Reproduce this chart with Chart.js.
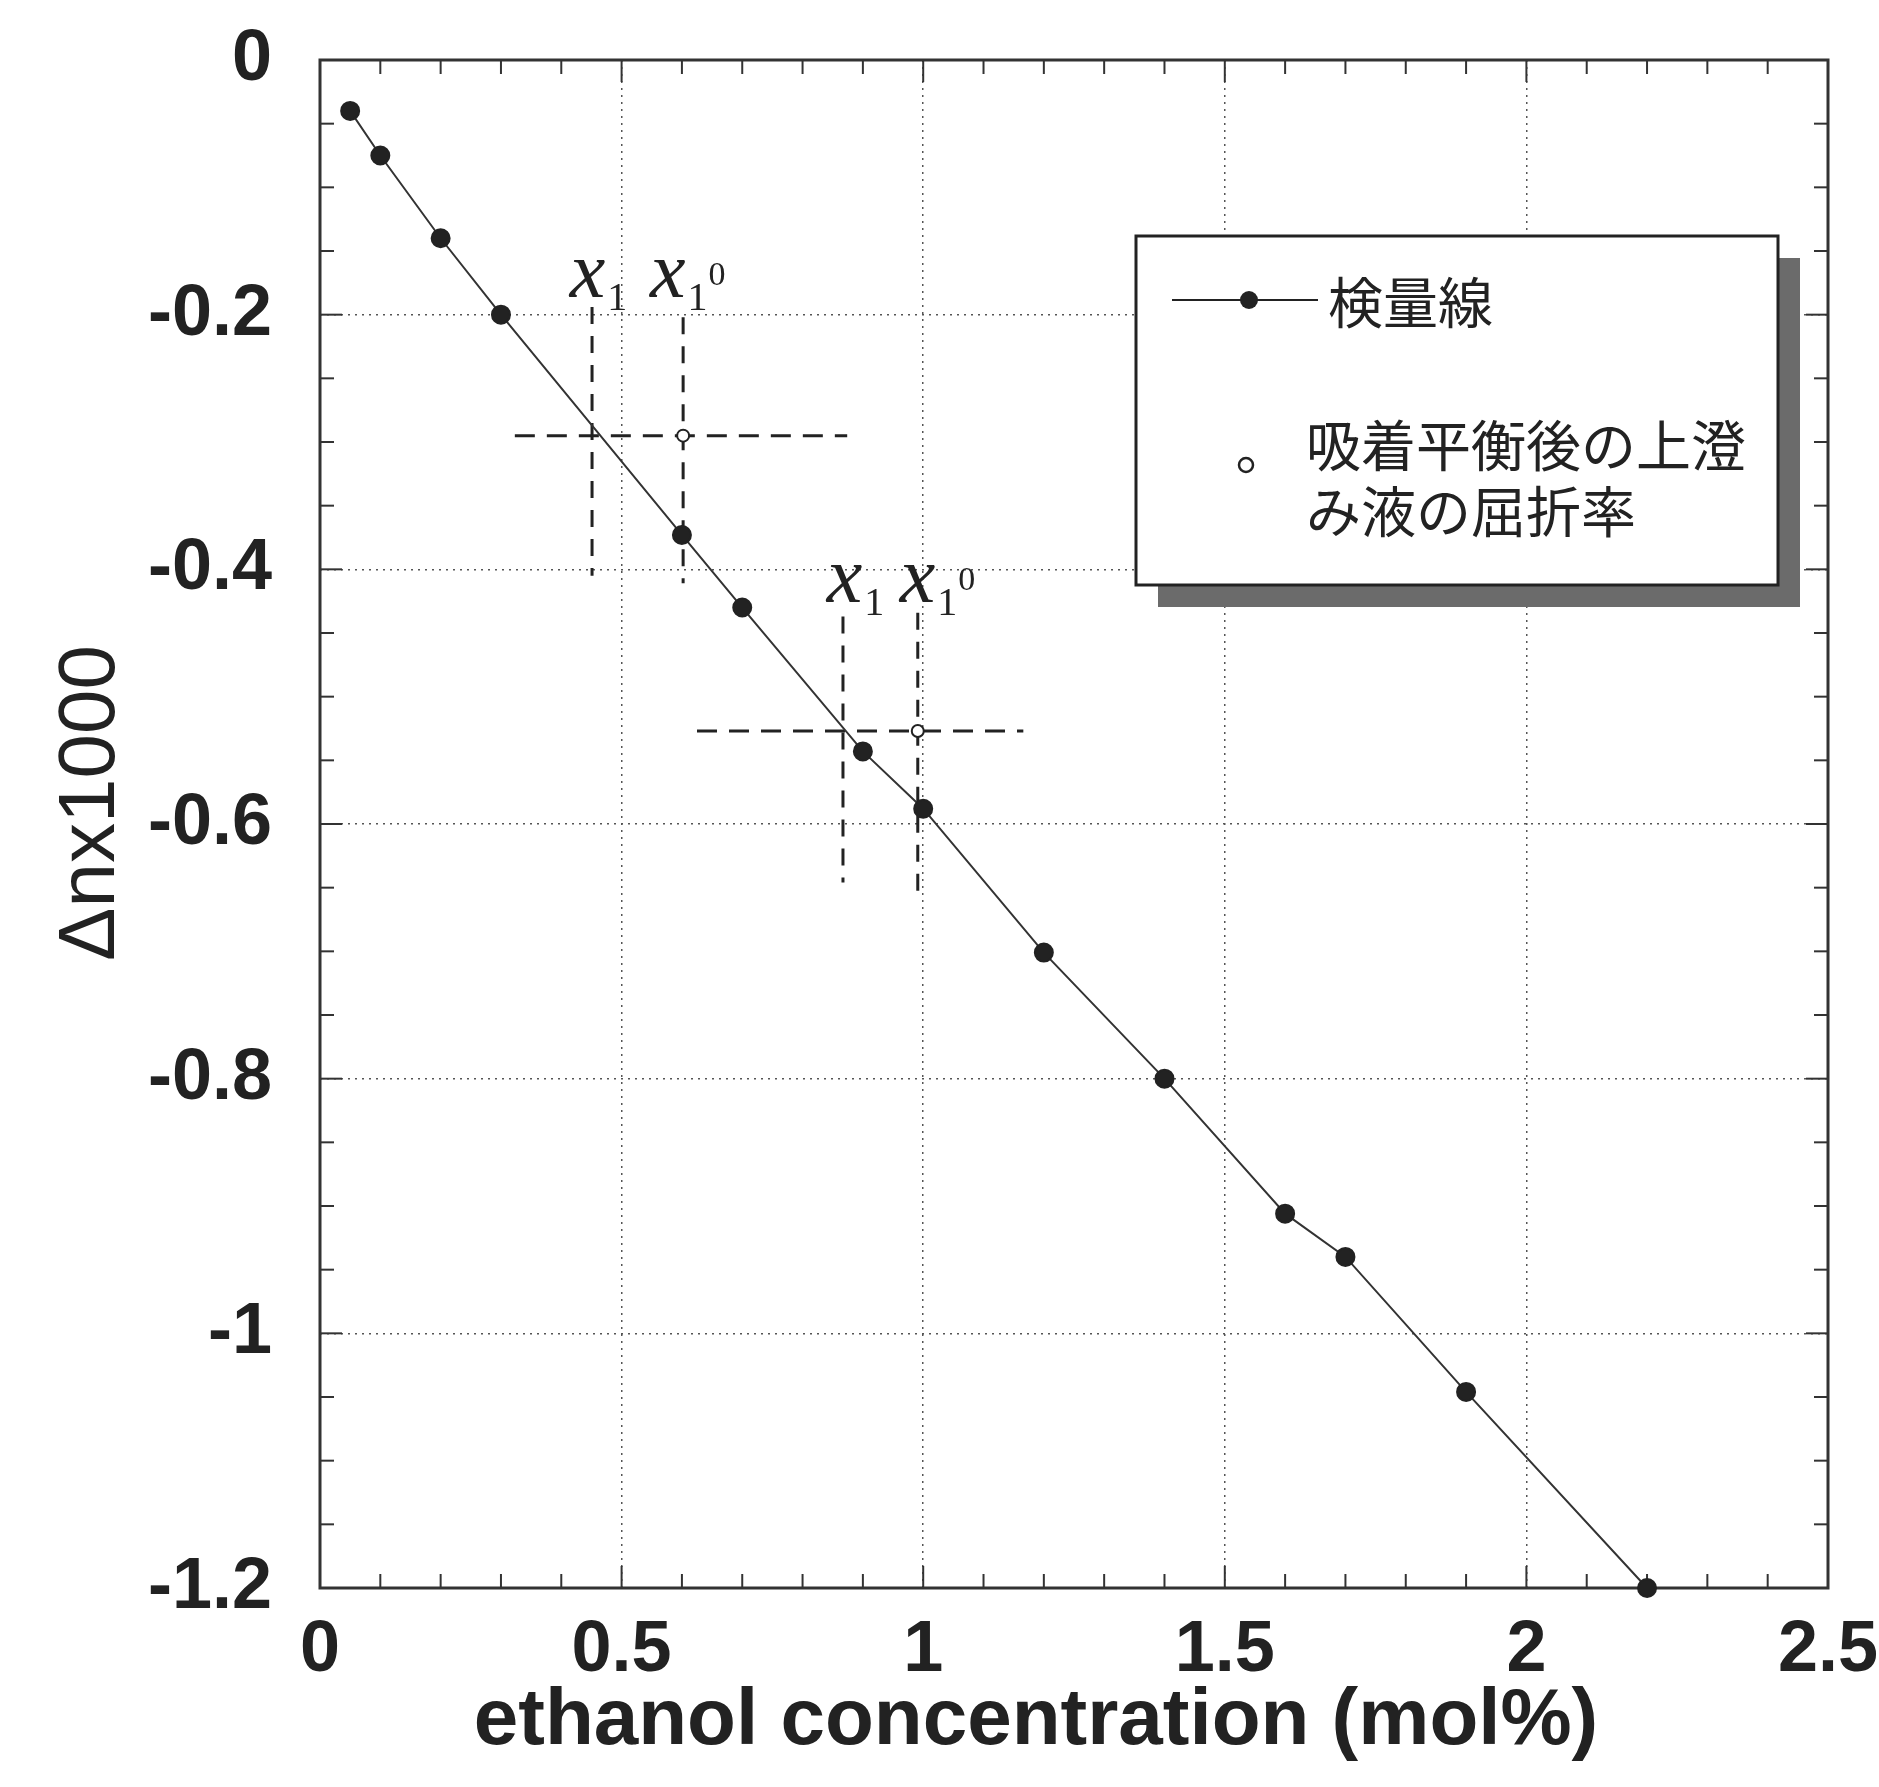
<!DOCTYPE html>
<html>
<head>
<meta charset="utf-8">
<script src="https://cdn.jsdelivr.net/npm/chart.js@4.4.0/dist/chart.umd.min.js"></script>
<style>
  body { margin: 0; background: #fff; }
</style>
</head>
<body>
<canvas id="chartjs_calib" width="1879" height="1787"></canvas>
<script>
// calibration line (filled dots)
const concentration = [0.05, 0.1, 0.2, 0.3, 0.6, 0.7, 0.9, 1.0, 1.2, 1.4, 1.6, 1.7, 1.9, 2.2];
const deltaN = [-0.04, -0.075, -0.14, -0.2, -0.373, -0.43, -0.543, -0.588, -0.701, -0.8, -0.906, -0.94, -1.046, -1.2];

// supernatant after adsorption equilibrium (open circles)
const supernatantX = [0.602, 0.991];
const supernatantY = [-0.295, -0.527];

// dashed guides: horizontal [x from, x to, y], vertical [x, y from, y to]
const guideH = [[0.323, 0.874, -0.295], [0.625, 1.166, -0.527]];
const guideV = [[0.451, -0.194, -0.405], [0.602, -0.202, -0.411], [0.867, -0.437, -0.646], [0.991, -0.434, -0.654]];
// x1 / x1^0 labels: [x, y, superscript]
const guideLabels = [[0.414, -0.186, ""], [0.547, -0.186, "0"], [0.84, -0.426, ""], [0.961, -0.426, "0"]];

const xTicks = [0, 0.5, 1, 1.5, 2, 2.5];
const yTicks = [-1.2, -1, -0.8, -0.6, -0.4, -0.2, 0];
const xMinorStep = 0.1;
const yMinorStep = 0.05;

const xTitle = "ethanol concentration (mol%)";
const yTitle = "Δnx1000";
const legendLine = "検量線";
const legendOpen = ["吸着平衡後の上澄", "み液の屈折率"];

function drawSeg(ctx, x1, y1, x2, y2) {
  ctx.beginPath();
  ctx.moveTo(x1, y1);
  ctx.lineTo(x2, y2);
  ctx.stroke();
}

const framePlugin = {
  id: "frame",
  beforeDatasetsDraw(chart) {
    const { ctx, chartArea: a, scales } = chart;
    const x = scales.x, y = scales.y;
    ctx.save();
    ctx.strokeStyle = "#333";
    ctx.lineWidth = 2;
    const nx = Math.round((x.max - x.min) / xMinorStep);
    for (let i = 0; i <= nx; i++) {
      const px = x.getPixelForValue(x.min + i * xMinorStep);
      const len = i % 5 === 0 ? 22 : 14;
      drawSeg(ctx, px, a.bottom, px, a.bottom - len);
      drawSeg(ctx, px, a.top, px, a.top + len);
    }
    const ny = Math.round((y.max - y.min) / yMinorStep);
    for (let i = 0; i <= ny; i++) {
      const py = y.getPixelForValue(y.min + i * yMinorStep);
      const len = i % 4 === 0 ? 22 : 14;
      drawSeg(ctx, a.left, py, a.left + len, py);
      drawSeg(ctx, a.right, py, a.right - len, py);
    }
    ctx.lineWidth = 3;
    ctx.strokeRect(a.left, a.top, a.right - a.left, a.bottom - a.top);
    ctx.restore();
  },
};

const labelPlugin = {
  id: "guideLabels",
  afterDatasetsDraw(chart) {
    const { ctx, scales } = chart;
    ctx.save();
    ctx.fillStyle = "#222";
    ctx.textBaseline = "alphabetic";
    ctx.textAlign = "left";
    guideLabels.forEach(function (l) {
      const px = scales.x.getPixelForValue(l[0]);
      const py = scales.y.getPixelForValue(l[1]);
      ctx.font = 'italic 80px "Liberation Serif"';
      ctx.fillText("x", px, py);
      const w = ctx.measureText("x").width;
      ctx.font = '40px "Liberation Serif"';
      ctx.fillText("1", px + w + 2, py + 13);
      const w1 = ctx.measureText("1").width;
      if (l[2]) {
        ctx.font = '34px "Liberation Serif"';
        ctx.fillText(l[2], px + w + w1 + 3, py - 12);
      }
    });
    ctx.restore();
  },
};

// axis titles are placed by hand: the original is not centred on the plot
const titlePlugin = {
  id: "axisTitles",
  afterDraw(chart) {
    const ctx = chart.ctx;
    ctx.save();
    ctx.fillStyle = "#222";
    ctx.textAlign = "center";
    ctx.textBaseline = "middle";
    ctx.font = 'bold 80px "Liberation Sans"';
    ctx.fillText(xTitle, 1036, 1722);
    ctx.translate(92, 803);
    ctx.rotate(-Math.PI / 2);
    ctx.font = '80px "Liberation Sans"';
    ctx.fillText(yTitle, 0, 0);
    ctx.restore();
  },
};

const legendPlugin = {
  id: "boxLegend",
  afterDraw(chart) {
    const ctx = chart.ctx;
    const bx = 1136, by = 236, bw = 642, bh = 349;
    ctx.save();
    ctx.fillStyle = "#6b6b6b";
    ctx.fillRect(bx + 22, by + 22, bw, bh);
    ctx.fillStyle = "#fff";
    ctx.fillRect(bx, by, bw, bh);
    ctx.strokeStyle = "#222";
    ctx.lineWidth = 3;
    ctx.strokeRect(bx, by, bw, bh);

    ctx.lineWidth = 2;
    drawSeg(ctx, 1172, 300, 1318, 300);
    ctx.fillStyle = "#222";
    ctx.beginPath();
    ctx.arc(1249, 300, 9, 0, Math.PI * 2);
    ctx.fill();

    ctx.lineWidth = 2.5;
    ctx.fillStyle = "#fff";
    ctx.beginPath();
    ctx.arc(1246, 465, 7, 0, Math.PI * 2);
    ctx.fill();
    ctx.stroke();

    ctx.fillStyle = "#222";
    ctx.font = '55px "Noto Sans CJK JP"';
    ctx.textBaseline = "middle";
    ctx.textAlign = "left";
    ctx.fillText(legendLine, 1328, 302);
    ctx.fillText(legendOpen[0], 1306, 445);
    ctx.fillText(legendOpen[1], 1306, 511);
    ctx.restore();
  },
};

function getguidesets() {
  const sets = [];
  guideH.forEach(function (g) {
    sets.push({ data: [{ x: g[0], y: g[2] }, { x: g[1], y: g[2] }], borderDash: [20, 12] });
  });
  guideV.forEach(function (g) {
    sets.push({ data: [{ x: g[0], y: g[1] }, { x: g[0], y: g[2] }], borderDash: [17, 12] });
  });
  return sets.map(function (s) {
    return Object.assign(s, {
      showLine: true,
      borderColor: "#222",
      borderWidth: 3,
      pointRadius: 0,
      order: 2,
    });
  });
}

const tickFont = { family: "Liberation Sans", size: 72, weight: "bold" };

new Chart(document.getElementById("chartjs_calib"), {
  type: "scatter",
  data: {
    datasets: [
      {
        label: legendLine,
        data: concentration.map((c, i) => ({ x: c, y: deltaN[i] })),
        showLine: true,
        borderColor: "#333",
        borderWidth: 2,
        pointRadius: 9,
        pointBackgroundColor: "#222",
        pointBorderColor: "#222",
        clip: false,
        order: 1,
      },
      {
        label: legendOpen.join(""),
        data: supernatantX.map((c, i) => ({ x: c, y: supernatantY[i] })),
        pointRadius: 6,
        pointBackgroundColor: "#fff",
        pointBorderColor: "#222",
        pointBorderWidth: 2,
        order: 0,
      },
    ].concat(getguidesets()),
  },
  options: {
    responsive: false,
    animation: false,
    events: [],
    layout: { padding: { top: 60, right: 51, left: 0, bottom: 0 } },
    plugins: {
      legend: { display: false },
      tooltip: { enabled: false },
    },
    scales: {
      x: {
        type: "linear",
        min: 0,
        max: 2.5,
        afterBuildTicks: (axis) => { axis.ticks = xTicks.map((v) => ({ value: v })); },
        afterFit: (axis) => {
          axis.height = 199;
          axis.paddingLeft = 0;
          axis.paddingRight = 0;
        },
        ticks: {
          callback: (v) => String(v),
          font: tickFont,
          color: "#222",
          padding: 20,
          maxRotation: 0,
          autoSkip: false,
        },
        grid: { color: "#555", lineWidth: 1.5, drawTicks: false, borderDash: [2, 5] },
        border: { display: false, dash: [2, 5] },
      },
      y: {
        type: "linear",
        min: -1.2,
        max: 0,
        afterBuildTicks: (axis) => { axis.ticks = yTicks.map((v) => ({ value: v })); },
        afterFit: (axis) => {
          axis.width = 320;
          axis.paddingTop = 0;
          axis.paddingBottom = 0;
        },
        ticks: {
          callback: (v) => String(v),
          font: tickFont,
          color: "#222",
          padding: 48,
          autoSkip: false,
        },
        grid: { color: "#555", lineWidth: 1.5, drawTicks: false, borderDash: [2, 5] },
        border: { display: false, dash: [2, 5] },
      },
    },
  },
  plugins: [framePlugin, labelPlugin, titlePlugin, legendPlugin],
});
</script>
</body>
</html>
